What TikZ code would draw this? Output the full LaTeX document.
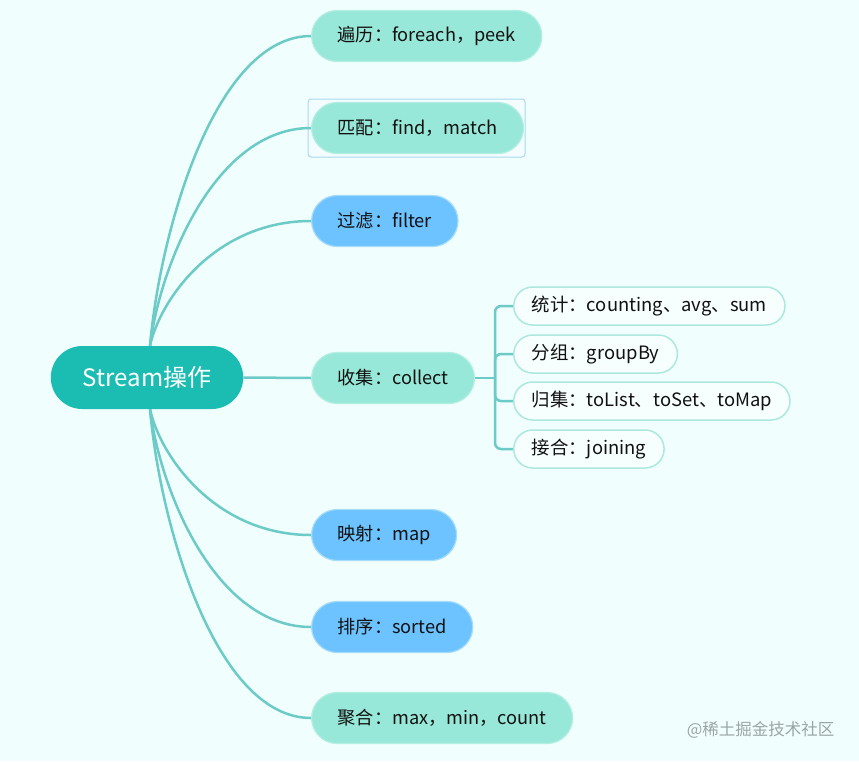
\documentclass[tikz,border=0pt]{standalone}
\usepackage{fontspec}
\setmainfont{Noto Sans CJK SC}
\usetikzlibrary{calc}
\definecolor{bgc}{HTML}{F0FFFE}
\definecolor{rootc}{HTML}{1BBCB1}
\definecolor{linec}{HTML}{6CCBC6}
\definecolor{mint}{HTML}{97E8D8}
\definecolor{mintb}{HTML}{B3EEE3}
\definecolor{bluec}{HTML}{6CC3FF}
\definecolor{blueb}{HTML}{A5DCF7}
\definecolor{childf}{HTML}{F6FFFE}
\definecolor{childb}{HTML}{ADE8DE}
\definecolor{selb}{HTML}{AAD8F0}
\definecolor{self}{HTML}{F3FCFF}
\definecolor{wmc}{HTML}{9BA5A5}
\definecolor{txt}{HTML}{111111}
\pgfdeclarelayer{bglayer}
\pgfdeclarelayer{sellayer}
\pgfdeclarelayer{edgelayer}
\pgfsetlayers{bglayer,sellayer,edgelayer,main}
\tikzset{
  rootnode/.style={rectangle, rounded corners=31.5pt, fill=rootc, text=white,
    minimum height=63pt, inner xsep=32pt, inner ysep=0pt,
    font=\fontsize{24}{27}\selectfont},
  topic/.style={rectangle, rounded corners=25.5pt, minimum height=51pt,
    inner xsep=26pt, inner ysep=0pt, anchor=west, text=txt, line width=1.2pt,
    font=\fontsize{18.2}{21}\selectfont},
  minttopic/.style={topic, fill=mint, draw=mintb},
  bluetopic/.style={topic, fill=bluec, draw=blueb},
  subtopic/.style={rectangle, rounded corners=19pt, minimum height=38pt,
    inner xsep=18pt, inner ysep=0pt, anchor=west, text=txt, fill=childf,
    draw=childb, line width=1.5pt, font=\fontsize{18.4}{21}\selectfont},
  conn/.style={draw=linec, line width=2.5pt},
  rootcurve/.style={to path={.. controls ($(\tikztostart)!0.37!(\tikztostart|-\tikztotarget)+(10,0)$) and ($(\tikztotarget)+(-96,0)$) .. (\tikztotarget)}}
}
\begin{document}
\begin{tikzpicture}[x=1pt,y=-1pt]
\useasboundingbox (0,0) rectangle (859,761);
\begin{pgfonlayer}{bglayer}
\fill[bgc] (0,0) rectangle (859,761);
\end{pgfonlayer}

\node[rootnode] (root) at (147,377.5) {Stream操作};

\node[minttopic] (trav) at (311,36) {遍历：foreach，peek};
\node[minttopic] (match) at (311,128) {匹配：find，match};
\node[bluetopic] (filt) at (311,221) {过滤：filter};
\node[minttopic] (coll) at (311,378) {收集：collect};
\node[bluetopic] (mapn) at (311,535) {映射：map};
\node[bluetopic] (sortn) at (311,627) {排序：sorted};
\node[minttopic] (aggr) at (311,718) {聚合：max，min，count};

\node[subtopic] (stat) at (513,306) {统计：counting、avg、sum};
\node[subtopic] (group) at (513,354) {分组：groupBy};
\node[subtopic] (gather) at (513,401) {归集：toList、toSet、toMap};
\node[subtopic] (join) at (513,449) {接合：joining};

\begin{pgfonlayer}{sellayer}
\draw[selb, fill=self, line width=1pt, rounded corners=3pt] (308,99) rectangle (525,157);
\end{pgfonlayer}

\begin{pgfonlayer}{edgelayer}
\coordinate (rtop) at ([xshift=3pt]root.north);
\coordinate (rbot) at ([xshift=3pt]root.south);
\foreach \t in {trav,match,filt}{
  \draw[conn] (rtop) to[rootcurve] (\t.west);
}
\foreach \t in {mapn,sortn,aggr}{
  \draw[conn] (rbot) to[rootcurve] (\t.west);
}
\draw[conn] (root.east) -- (coll.west);
\coordinate (branch) at ($(coll.east)+(20,0)$);
\draw[conn] (coll.east) -- (branch);
\foreach \c in {stat,group,gather,join}{
  \draw[conn, rounded corners=6pt] (branch) |- (\c.west);
}
\end{pgfonlayer}

\node[anchor=east, text=wmc, font=\fontsize{16.5}{18}\selectfont] (wm) at (838,730) {@稀土掘金技术社区};
\end{tikzpicture}
\end{document}
